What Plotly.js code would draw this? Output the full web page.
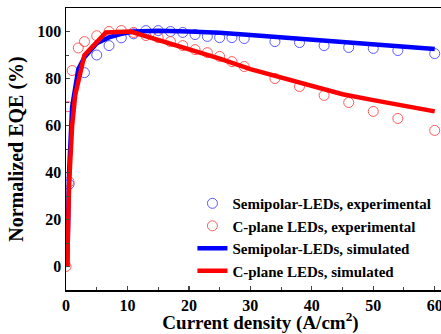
<!DOCTYPE html>
<html><head><meta charset="utf-8">
<script src="https://cdn.plot.ly/plotly-3.0.1.min.js"></script>
<style>html,body{margin:0;padding:0;overflow:hidden;background:#fff;}#chart{width:455px;height:334px;}</style>
</head><body><div id="chart"></div>
<script>
// Experimental data
const semiExpX = [0.5, 3, 5, 7, 9, 11, 13, 15, 17, 19, 21, 23, 25, 27, 29, 34, 38, 42, 46, 50, 54, 60];
const semiExpY = [35, 82.5, 90, 94, 97.3, 99, 100.4, 100.4, 100, 99.6, 98.7, 97.9, 97.4, 97.4, 97, 95.7, 95.3, 94, 93.2, 92.8, 91.9, 90.6];
const cExpX = [0, 0.5, 0.3, 1, 2, 3, 5, 7, 9, 11, 13, 15, 17, 19, 21, 23, 25, 27, 29, 34, 38, 42, 46, 50, 54, 60];
const cExpY = [0, 36, 68, 83.4, 93, 95.7, 98.2, 100, 100.4, 99.6, 98.3, 97.4, 95.7, 94, 92.3, 91, 89.4, 87.2, 85.1, 80, 76.6, 72.8, 69.8, 66, 63, 57.9];
// Simulated data
const semiSimX = [0.2, 0.5, 1, 2, 3, 5, 7, 9, 11, 15, 20, 25, 30, 35, 40, 45, 50, 55, 60];
const semiSimY = [0, 40, 68, 84, 89, 95, 97.5, 99, 100, 100.3, 100, 99.5, 98.5, 97.5, 96.5, 95.5, 94.5, 93.5, 92.6];
const cSimX = [0.2, 0.5, 1, 1.5, 3, 6.5, 10.5, 15, 20, 25, 30, 35, 40, 45, 50, 55, 60];
const cSimY = [0, 35, 60, 73, 90, 99.6, 100, 96.5, 92.5, 88.5, 84, 80.3, 76.5, 73.3, 70.8, 68.3, 66];
const names = ['Semipolar-LEDs, experimental', 'C-plane LEDs, experimental', 'Semipolar-LEDs, simulated', 'C-plane LEDs, simulated'];

const serif = 'Liberation Serif, Times New Roman, serif';
const traces = [
  {x: semiExpX, y: semiExpY, name: names[0], mode: 'markers', type: 'scatter',
   marker: {symbol: 'circle-open', size: 10, color: 'rgb(90,90,255)', line: {width: 1}}},
  {x: cExpX, y: cExpY, name: names[1], mode: 'markers', type: 'scatter',
   marker: {symbol: 'circle-open', size: 10, color: 'rgb(255,90,90)', line: {width: 1}}},
  {x: semiSimX, y: semiSimY, name: names[2], mode: 'lines', type: 'scatter',
   line: {color: '#0000ff', width: 4.5}},
  {x: cSimX, y: cSimY, name: names[3], mode: 'lines', type: 'scatter',
   line: {color: '#ff0000', width: 4.5}}
];
const layout = {
  width: 455, height: 334,
  margin: {l: 66, r: 0, t: 8, b: 44},
  paper_bgcolor: '#fff', plot_bgcolor: '#fff',
  font: {family: serif, color: '#000'},
  showlegend: true,
  legend: {x: 0.325, y: 0.365, xanchor: 'left', yanchor: 'top', bgcolor: 'rgba(0,0,0,0)',
           font: {family: serif, size: 15, weight: 'bold', color: '#000'}, tracegroupgap: 0},
  xaxis: {range: [0, 63.3], dtick: 10, tick0: 0, ticks: 'inside', ticklen: 4, tickwidth: 1.2,
          showline: true, linewidth: 1.5, linecolor: '#000', mirror: true, showgrid: false, zeroline: false,
          minor: {dtick: 5, ticks: 'inside', ticklen: 3, tickwidth: 1},
          tickfont: {family: serif, size: 16, weight: 'bold'},
          title: {text: 'Current density (A/cm<sup>2</sup>)', font: {family: serif, size: 19, weight: 'bold'}, standoff: 6}},
  yaxis: {range: [-10, 110], tickvals: [0, 20, 40, 60, 80, 100], ticks: 'inside', ticklen: 4, tickwidth: 1.2,
          showline: true, linewidth: 1.5, linecolor: '#000', showgrid: false, zeroline: false,
          minor: {tickvals: [10, 30, 50, 70, 90], ticks: 'inside', ticklen: 3, tickwidth: 1},
          tickfont: {family: serif, size: 16, weight: 'bold'},
          title: {text: 'Normalized EQE (%)', font: {family: serif, size: 20, weight: 'bold'}, standoff: 8}}
};
Plotly.newPlot('chart', traces, layout, {displayModeBar: false, staticPlot: true});
</script></body></html>
